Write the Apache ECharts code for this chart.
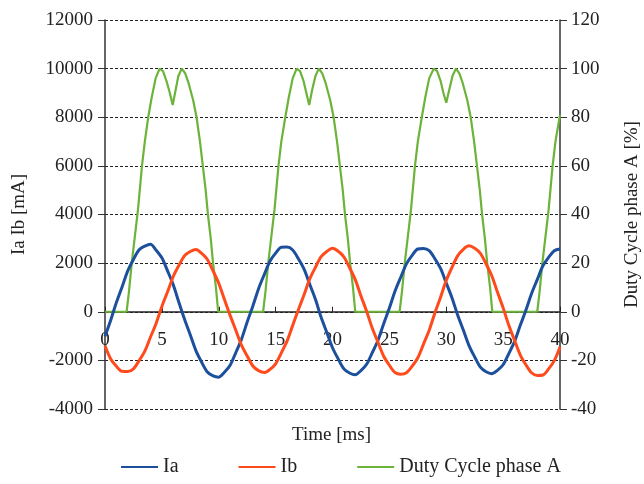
<!DOCTYPE html>
<html>
<head>
<meta charset="utf-8">
<script src="https://cdn.jsdelivr.net/npm/echarts@6/dist/echarts.min.js"></script>
<style>html,body{margin:0;padding:0;background:#fff}#c{width:644px;height:484px}</style>
</head>
<body>
<div id="c"></div>
<script>
var timeMs = [0,0.5,1,1.5,2,2.5,3,3.5,4,4.5,5,5.5,6,6.5,7,7.5,8,8.5,9,9.5,10,10.5,11,11.5,12,12.5,13,13.5,14,14.5,15,15.5,16,16.5,17,17.5,18,18.5,19,19.5,20,20.5,21,21.5,22,22.5,23,23.5,24,24.5,25,25.5,26,26.5,27,27.5,28,28.5,29,29.5,30,30.5,31,31.5,32,32.5,33,33.5,34,34.5,35,35.5,36,36.5,37,37.5,38,38.5,39,39.5,40];
var iaValues = [-1010,-350,380,1020,1680,2150,2550,2700,2780,2530,
  2220,1680,1110,380,-320,-960,-1610,-2080,-2480,-2640,
  -2690,-2490,-2200,-1680,-1130,-420,240,950,1530,2080,
  2410,2650,2660,2540,2180,1750,1130,510,-230,-850,
  -1480,-1940,-2350,-2520,-2590,-2420,-2160,-1680,-1170,-490,
  150,850,1420,1970,2320,2580,2600,2510,2180,1780,
  1180,580,-130,-750,-1390,-1860,-2280,-2470,-2550,-2410,
  -2180,-1720,-1230,-570,60,750,1320,1890,2240,2510,
  2580];
var ibValues = [-1400,-1940,-2240,-2450,-2460,-2350,-2010,-1620,-1040,-470,
  220,820,1450,1910,2310,2480,2560,2400,2150,1680,
  1170,500,-150,-760,-1370,-1820,-2230,-2420,-2500,-2370,
  -2140,-1690,-1210,-560,80,700,1350,1830,2270,2480,
  2610,2490,2260,1810,1320,650,20,-680,-1260,-1830,
  -2200,-2500,-2570,-2510,-2240,-1890,-1330,-760,-50,600,
  1290,1820,2300,2570,2710,2610,2400,1970,1480,810,
  160,-560,-1170,-1770,-2180,-2510,-2620,-2600,-2350,-2010,
  -1450];
var dutyTime = [0,1.9,2.1,2.35,2.6,2.9,3.25,3.5,3.8,4.1,4.45,4.8,5.1,5.4,5.7,5.95,6.2,6.45,6.75,7.05,7.35,7.75,8.05,8.35,8.6,8.85,9.05,9.3,9.5,9.75,9.95,
  13.9,14.1,14.35,14.6,14.9,15.25,15.5,15.85,16.15,16.5,16.85,17.15,17.45,17.7,17.95,18.2,18.5,18.8,19.1,19.4,19.8,20.1,20.4,20.65,20.9,21.1,21.35,21.55,21.8,22.0,
  25.9,26.1,26.35,26.6,26.9,27.25,27.5,27.85,28.15,28.5,28.9,29.2,29.5,29.75,30.0,30.25,30.55,30.85,31.15,31.45,31.85,32.15,32.45,32.7,32.95,33.15,33.4,33.6,33.85,34.05,
  38.0,38.2,38.45,38.7,39.0,39.35,39.6,40.0];
var dutyValues = [0,0,8,20,30,42,60,70,80,88,96,100,99,95,90,85,91,97,100,98,94,87,80,70,60,50,40,30,20,10,0,
  0,8,20,30,42,60,70,80,88,96,100,99,95,90,85,91,97,100,98,94,87,80,70,60,50,40,30,20,10,0,
  0,8,20,30,42,60,70,80,88,96,100,99,95,90,86,91,97,100,98,94,87,80,70,60,50,40,30,20,10,0,
  0,8,20,30,42,60,70,81];
var seriesNames = ['Ia', 'Ib', 'Duty Cycle phase A'];
var xAxisTitle = 'Time [ms]';
var leftAxisTitle = 'Ia Ib [mA]';
var rightAxisTitle = 'Duty Cycle phase A [%]';

function pairs(xs, ys) { return xs.map(function (x, i) { return [x, ys[i]]; }); }

var FONT = '"Liberation Serif", "DejaVu Serif", serif';
var GRID_TOP = 20, GRID_BOTTOM = 75, H = 484;
var plotH = H - GRID_TOP - GRID_BOTTOM;
// distance of y=0 above the grid bottom (y range -4000..12000)
var zeroOffset = plotH * 4000 / 16000;

var chart = echarts.init(document.getElementById('c'), null, { renderer: 'canvas' });
chart.setOption({
  animation: false,
  backgroundColor: '#fff',
  textStyle: { fontFamily: FONT },
  grid: { left: 105, right: 84, top: GRID_TOP, bottom: GRID_BOTTOM, containLabel: false, outerBoundsMode: 'none' },
  title: {
    text: xAxisTitle, top: 421, left: 287,
    textStyle: { fontFamily: FONT, fontSize: 19, fontWeight: 'normal', color: '#222' }
  },
  legend: {
    bottom: 2, left: 116, itemGap: 60, itemWidth: 37, itemHeight: 2, icon: 'rect',
    textStyle: { fontFamily: FONT, fontSize: 20, color: '#222' },
    data: seriesNames
  },
  xAxis: {
    type: 'value', min: 0, max: 40, interval: 5, position: 'bottom', offset: -zeroOffset,
    axisLine: { onZero: false, lineStyle: { color: '#222', width: 1.5 } },
    axisTick: { inside: true, length: 5, lineStyle: { color: '#222' } },
    axisLabel: { fontFamily: FONT, fontSize: 19, color: '#222', margin: 19 },
    splitLine: { show: false }
  },
  yAxis: [{
    type: 'value', min: -4000, max: 12000, interval: 2000,
    name: leftAxisTitle, nameLocation: 'middle', nameGap: 76, nameRotate: 90,
    nameTextStyle: { fontFamily: FONT, fontSize: 19, color: '#222' },
    axisLine: { show: true, lineStyle: { color: '#333', width: 1.5 } },
    axisTick: { show: true, length: 7, lineStyle: { color: '#333' } },
    axisLabel: { fontFamily: FONT, fontSize: 19, color: '#222', margin: 12,
      formatter: function (v) { return String(v); } },
    splitLine: { show: true, lineStyle: { color: '#222', type: [3, 2], width: 1 } }
  }, {
    type: 'value', min: -40, max: 120, interval: 20, position: 'right',
    name: rightAxisTitle, nameLocation: 'middle', nameGap: 63, nameRotate: 90,
    nameTextStyle: { fontFamily: FONT, fontSize: 19, color: '#222' },
    axisLine: { show: true, onZero: false, lineStyle: { color: '#333', width: 1.5 } },
    axisTick: { show: true, length: 7, lineStyle: { color: '#333' } },
    axisLabel: { fontFamily: FONT, fontSize: 19, color: '#222', margin: 11,
      formatter: function (v) { return String(v); } },
    splitLine: { show: false }
  }],
  series: [{
    name: seriesNames[0], type: 'line', yAxisIndex: 0, showSymbol: false, z: 3, smooth: 0.3,
    data: pairs(timeMs, iaValues),
    lineStyle: { color: '#1c4f9c', width: 3 }, itemStyle: { color: '#1c4f9c' }
  }, {
    name: seriesNames[1], type: 'line', yAxisIndex: 0, showSymbol: false, z: 4, smooth: 0.3,
    data: pairs(timeMs, ibValues),
    lineStyle: { color: '#ff4a1c', width: 3 }, itemStyle: { color: '#ff4a1c' }
  }, {
    name: seriesNames[2], type: 'line', yAxisIndex: 1, showSymbol: false, z: 2,
    data: pairs(dutyTime, dutyValues),
    lineStyle: { color: '#6cb33a', width: 2.2 }, itemStyle: { color: '#6cb33a' }
  }]
});
</script>
</body>
</html>
